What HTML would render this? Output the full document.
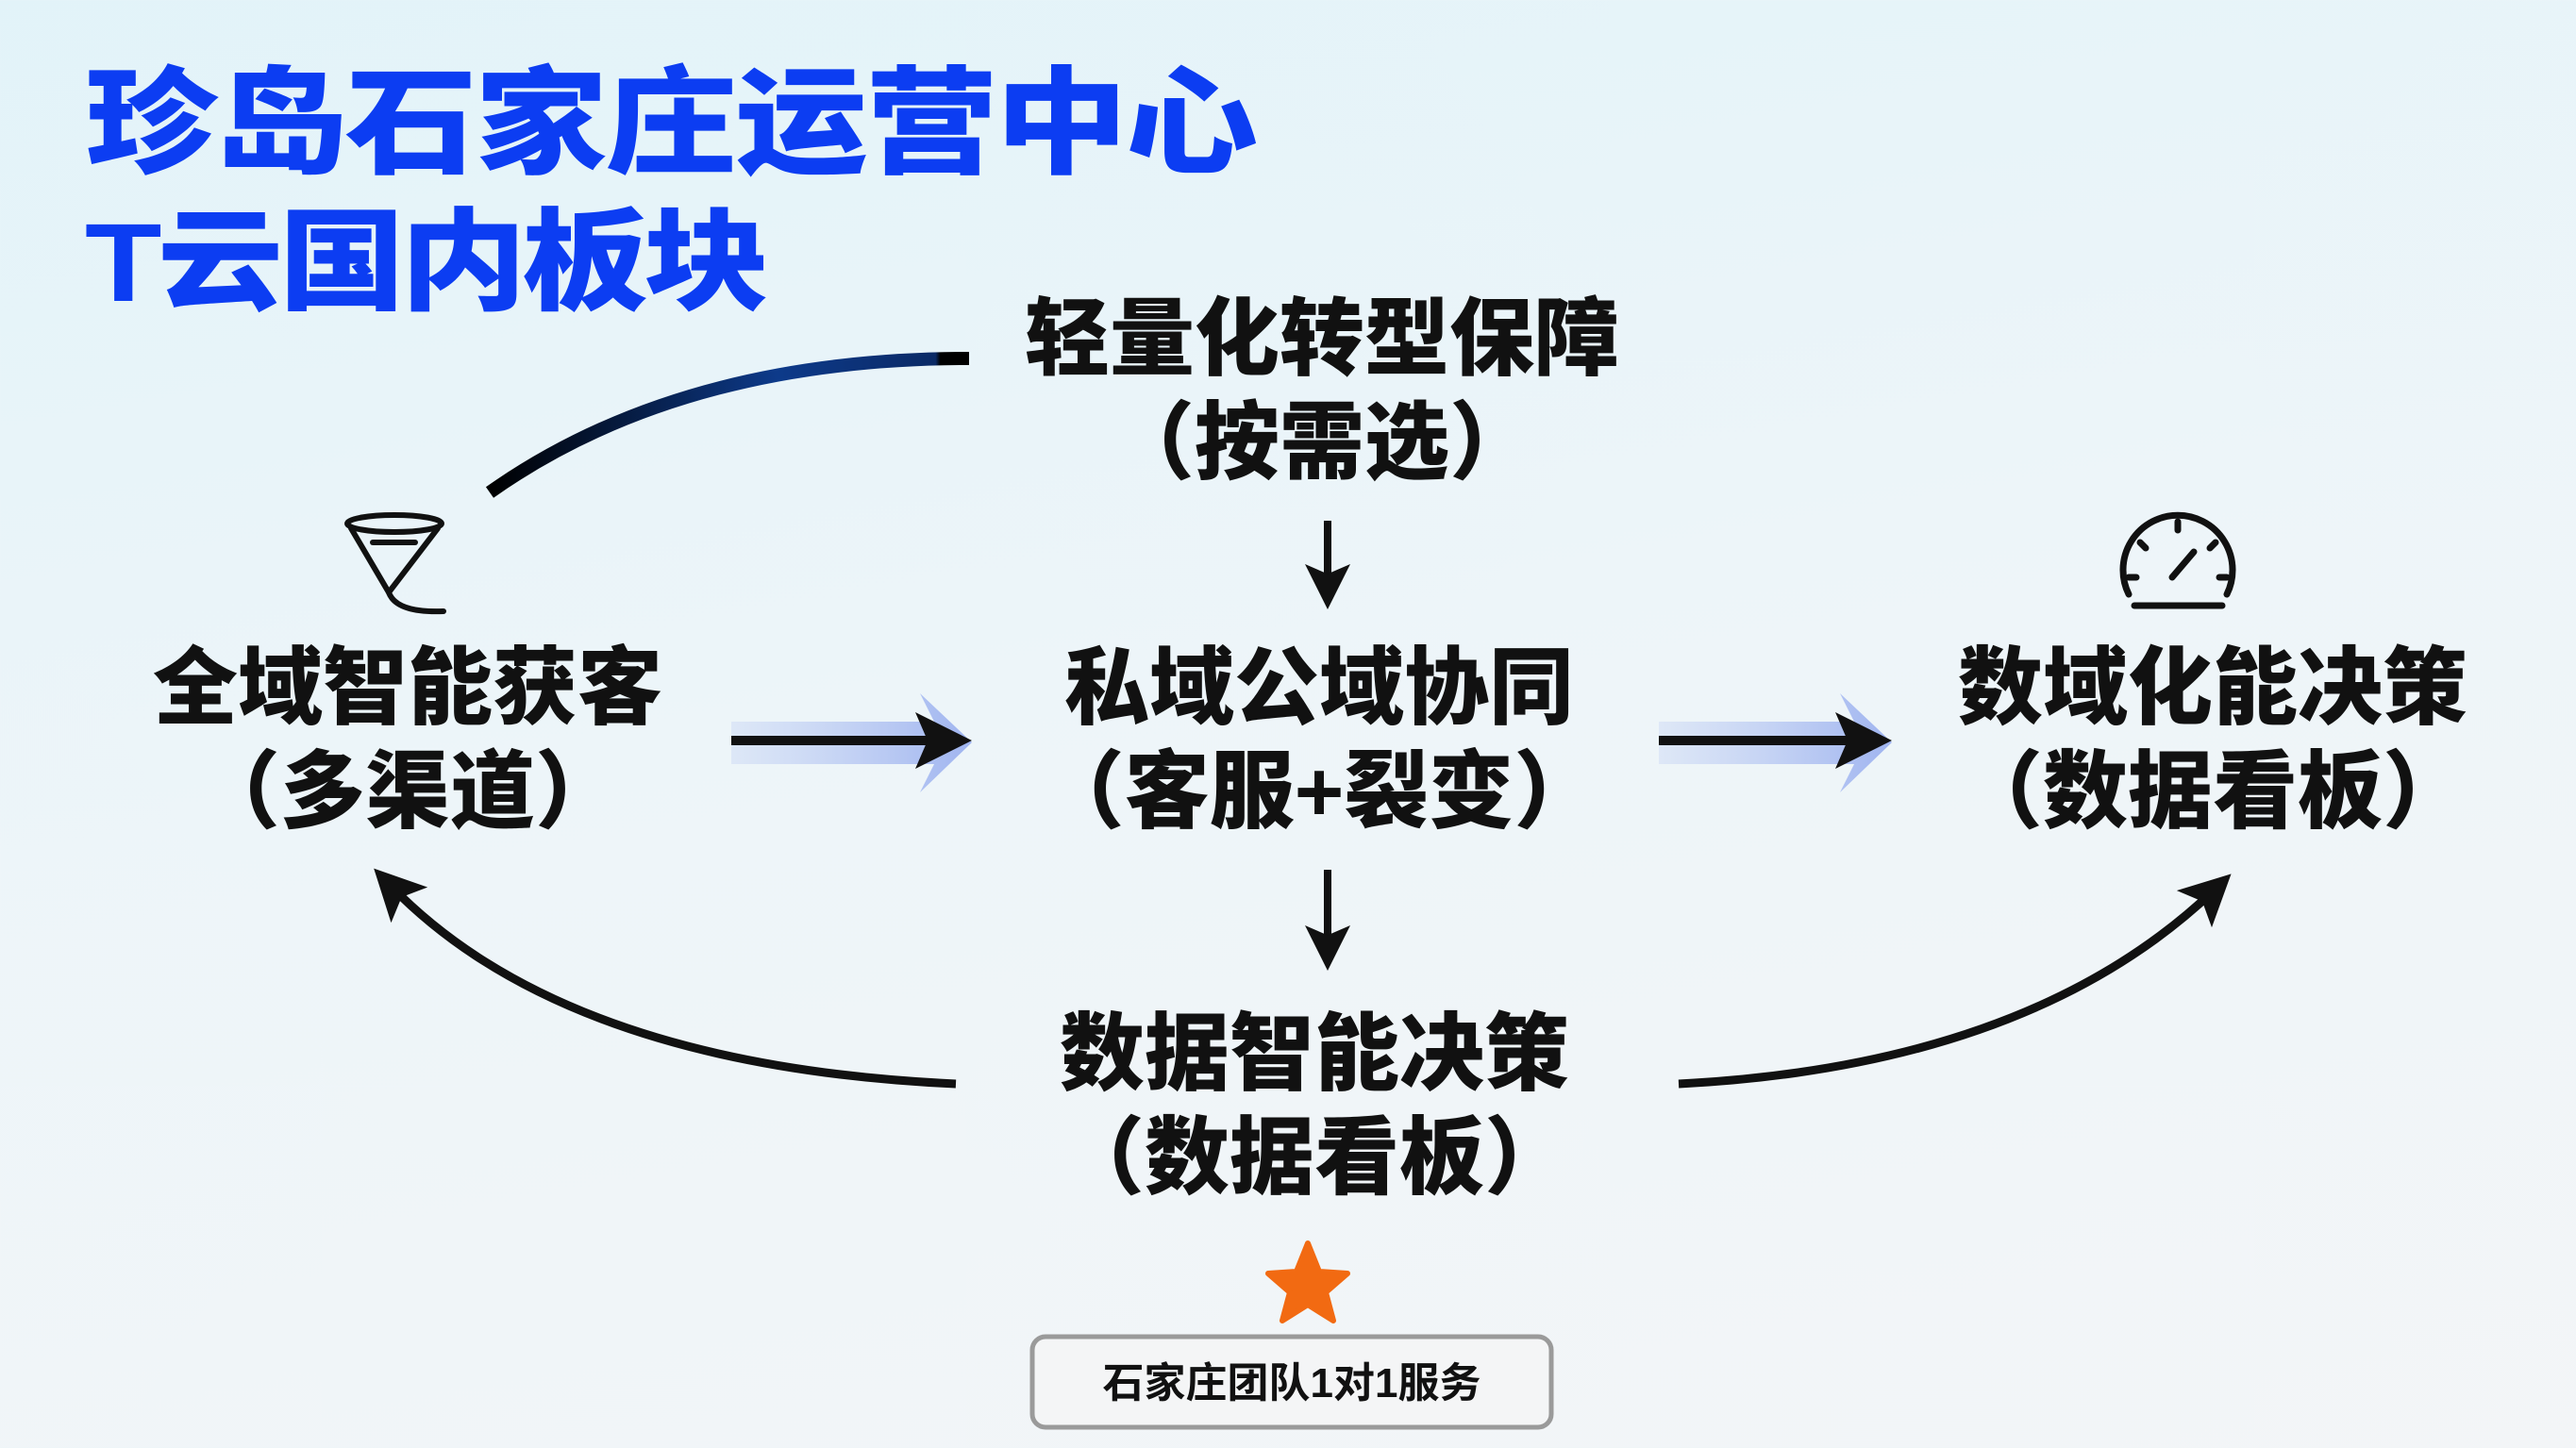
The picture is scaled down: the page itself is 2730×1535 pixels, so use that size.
<!DOCTYPE html>
<html><head><meta charset="utf-8"><style>
html,body{margin:0;padding:0}
body{width:2730px;height:1535px;overflow:hidden;position:relative;
background:linear-gradient(170deg,#e2f3f9 0%,#edf5f9 45%,#f3f5f7 100%);
font-family:"Liberation Sans","Noto Sans CJK SC",sans-serif}
.t{position:absolute;color:#0c3df2;font-weight:900;white-space:nowrap;transform-origin:left top}
.n{position:absolute;font-weight:900;color:#111;font-size:90px;line-height:110px;text-align:center;width:800px;white-space:nowrap}
</style></head><body>
<div class="t" style="left:90px;top:62px;font-size:124px;line-height:140px;transform:scaleX(1.13);letter-spacing:-2px">珍岛石家庄运营中心</div>
<div class="t" style="left:90px;top:214px;font-size:118px;line-height:130px;transform:scaleX(1.13);letter-spacing:-4px">T云国内板块</div>

<div class="n" style="left:1001px;top:305px">轻量化转型保障<br>（按需选）</div>
<div class="n" style="left:32px;top:675px">全域智能获客<br>（多渠道）</div>
<div class="n" style="left:998px;top:675px">私域公域协同<br>（客服+裂变）</div>
<div class="n" style="left:1945px;top:675px">数域化能决策<br>（数据看板）</div>
<div class="n" style="left:993px;top:1063px">数据智能决策<br>（数据看板）</div>

<svg width="2730" height="1535" style="position:absolute;left:0;top:0">
<defs>
<linearGradient id="g1" x1="0" y1="0" x2="1" y2="0"><stop offset="0" stop-color="#000"/><stop offset="0.6" stop-color="#0d3a8a"/><stop offset="0.93" stop-color="#0b2a66"/><stop offset="0.94" stop-color="#000"/></linearGradient>
<linearGradient id="gl" x1="0" y1="0" x2="1" y2="0"><stop offset="0" stop-color="#b8c8f2" stop-opacity="0.3"/><stop offset="1" stop-color="#9fb4f0"/></linearGradient>
<marker id="ah" markerWidth="6" markerHeight="6" refX="3" refY="3" orient="auto" markerUnits="strokeWidth"><path d="M0,0 L6,3 L0,6 L1.3,3 z" fill="#111"/></marker>
</defs>
<path d="M519,522 Q720,380 1027,380" stroke="url(#g1)" stroke-width="14" fill="none"/>
<line x1="1407" y1="552" x2="1407" y2="622" stroke="#111" stroke-width="8" marker-end="url(#ah)"/>
<line x1="1407" y1="922" x2="1407" y2="1005" stroke="#111" stroke-width="8" marker-end="url(#ah)"/>
<path d="M775,765 L990,765 L975,735 L1030,787 L975,840 L990,810 L775,810 z" fill="url(#gl)"/>
<line x1="775" y1="785" x2="1000" y2="785" stroke="#111" stroke-width="10" marker-end="url(#ah)"/>
<path d="M1758,765 L1965,765 L1950,735 L2005,787 L1950,840 L1965,810 L1758,810 z" fill="url(#gl)"/>
<line x1="1758" y1="785" x2="1975" y2="785" stroke="#111" stroke-width="10" marker-end="url(#ah)"/>
<path d="M1013,1149 Q600,1130 415,940" stroke="#111" stroke-width="9" fill="none" marker-end="url(#ah)"/>
<path d="M1779,1149 Q2150,1130 2345,945" stroke="#111" stroke-width="9" fill="none" marker-end="url(#ah)"/>
<g stroke="#111" stroke-width="6" fill="none" stroke-linecap="round">
<ellipse cx="418" cy="555" rx="50" ry="9"/>
<path d="M372,560 L412,628 L464,560"/>
<path d="M395,575 L440,575"/>
<path d="M412,628 Q420,650 470,648"/>
</g>
<g stroke="#111" stroke-width="7" fill="none" stroke-linecap="round">
<path d="M2256,630 A58,58 0 1 1 2360,630"/>
<line x1="2262" y1="642" x2="2355" y2="642"/>
<line x1="2302" y1="612" x2="2325" y2="585"/>
<line x1="2308" y1="553" x2="2308" y2="562"/><line x1="2268" y1="575" x2="2274" y2="581"/><line x1="2348" y1="575" x2="2342" y2="581"/><line x1="2256" y1="612" x2="2264" y2="612"/><line x1="2360" y1="612" x2="2352" y2="612"/>
</g>
<polygon points="1386,1318 1398,1348 1428,1350 1405,1370 1413,1400 1386,1383 1359,1400 1367,1370 1344,1350 1374,1348" fill="#f26a12" stroke="#f26a12" stroke-width="6" stroke-linejoin="round"/>
<rect x="1094" y="1417" width="550" height="96" rx="14" fill="#f4f5f6" stroke="#9a9a9a" stroke-width="5"/>
<text x="1369" y="1481" font-size="44" font-weight="700" fill="#111" text-anchor="middle" font-family="Liberation Sans, Noto Sans CJK SC, sans-serif">石家庄团队1对1服务</text>
</svg>
</body></html>
